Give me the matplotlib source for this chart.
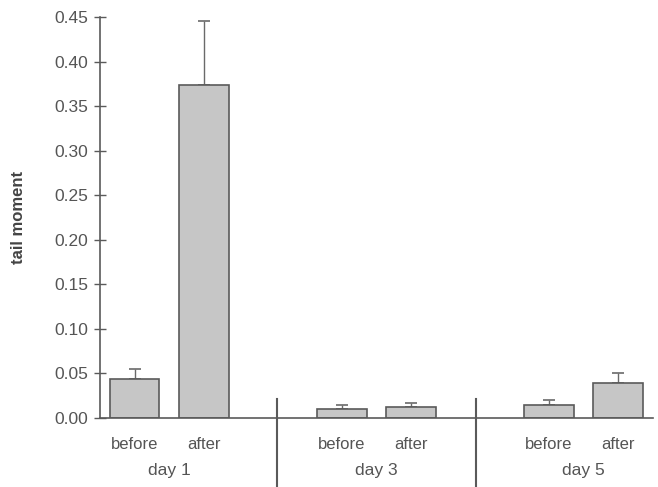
import matplotlib
matplotlib.use("Agg")
import matplotlib.pyplot as plt
import matplotlib.transforms as mtransforms
import numpy as np

plt.rcParams['font.family'] = ['Liberation Sans', 'DejaVu Sans']

# Mean tail moment per condition and upper error (SD)
days = ["day 1", "day 3", "day 5"]
conditions = ["before", "after"]
means = [0.0435, 0.374, 0.0098, 0.012, 0.0146, 0.0396]
err_tops = [0.0553, 0.446, 0.015, 0.0168, 0.0199, 0.0505]
y_ticks = [0.00, 0.05, 0.10, 0.15, 0.20, 0.25, 0.30, 0.35, 0.40, 0.45]

text_c = "#555555"
line_c = "#5a5a5a"

fig = plt.figure(figsize=(6.58, 4.87), dpi=100)
ax = fig.add_axes([100 / 658, 1 - 418 / 487, (652.7 - 100) / 658, (418 - 17) / 487])

# bar positions: two bars per day, a gap between days
xpos = []
for g in range(len(days)):
    xpos += [3 * g, 3 * g + 1]
xpos = np.array(xpos, dtype=float)
means_a = np.array(means)
upper = np.array(err_tops) - means_a

ax.bar(xpos, means_a, width=0.72, color="#c6c6c6", edgecolor=line_c,
       linewidth=1.2, zorder=2)
ax.errorbar(xpos, means_a, yerr=[np.zeros_like(upper), upper], fmt="none",
            ecolor="#6a6a6a", elinewidth=1.0, capsize=4, capthick=1.2, zorder=1)

ax.set_xlim(-0.5, 7.5)
ax.set_ylim(0, 0.45)
ax.set_yticks(y_ticks)
ax.set_yticklabels([f"{v:.2f}" for v in y_ticks])
ax.tick_params(axis="y", direction="inout", length=9, width=1.0, colors=line_c,
               labelcolor=text_c, labelsize=12.5, pad=4)
ax.set_xticks(xpos)
ax.set_xticklabels(conditions * len(days))
ax.tick_params(axis="x", length=0, labelcolor=text_c, labelsize=12, pad=14)

for s in ["top", "right"]:
    ax.spines[s].set_visible(False)
for s in ["left", "bottom"]:
    ax.spines[s].set_color(line_c)
    ax.spines[s].set_linewidth(1.2)

ax.set_ylabel("tail moment", fontsize=12, fontweight="bold", color="#444444",
              labelpad=20)

# day labels and separators below the axis
trans = mtransforms.blended_transform_factory(ax.transData, ax.transAxes)
for g, d in enumerate(days):
    ax.text(3 * g + 0.5, -52 / 401, d, transform=trans, ha="center", va="center",
            fontsize=12.5, color=text_c)
for xs in [2.06, 4.94]:
    ax.plot([xs, xs], [0.048, -70 / 401 - 0.01], transform=trans, color=line_c,
            linewidth=1.5, clip_on=False, zorder=3)

fig.savefig("out.png", dpi=100)
